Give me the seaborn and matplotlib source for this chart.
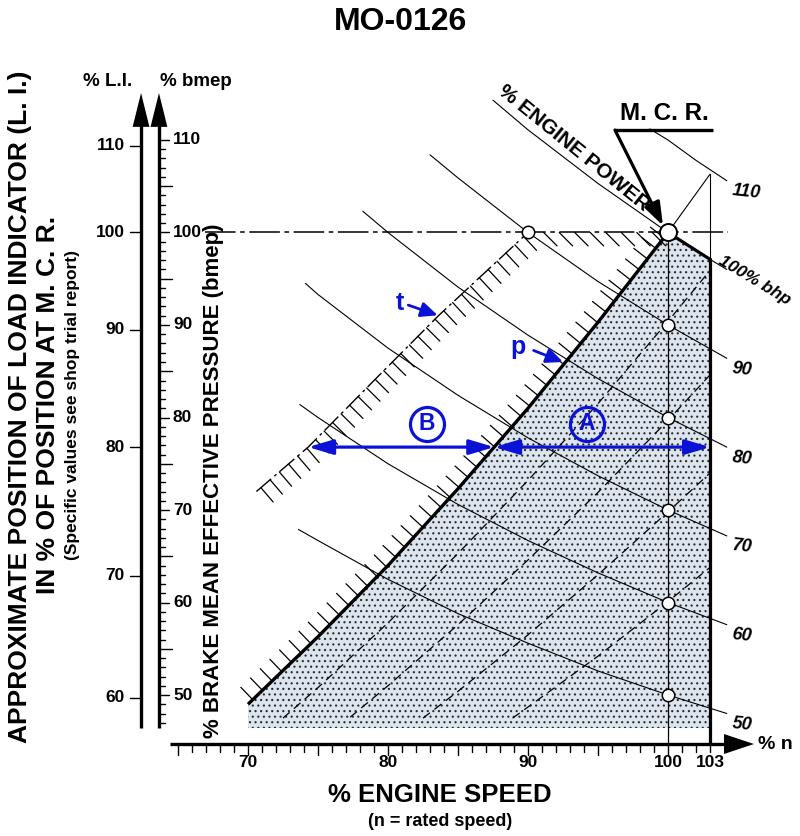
import numpy as np
import pandas as pd
import matplotlib
matplotlib.use("Agg")
import matplotlib.pyplot as plt
import matplotlib.patheffects as pe
import seaborn as sns

# ===============================
# DATA
# ===============================
speed_ticks = [70, 80, 90, 100, 103]
bmep_ticks = [50, 60, 70, 80, 90, 100, 110]
li_ticks = [60, 70, 80, 90, 100, 110]
li_at_bmep = [49.7, 62.9, 76.8, 89.5, 100.0, 109.4]   # L.I. marks on the bmep scale

# constant engine power lines (% of MCR power)
power_levels = [110, 100, 90, 80, 70, 60, 50]
power_speed = [
    [98.7, 100, 102, 104.2],
    [87.5, 90, 95, 100, 103, 104.2],
    [83.0, 85, 90, 95, 100, 104.2],
    [78.2, 80, 85, 90, 95, 100, 104.2],
    [74.1, 75, 80, 85, 90, 95, 100, 104.2],
    [73.7, 75, 80, 85, 90, 95, 100, 104.2],
    [73.6, 75, 80, 85, 90, 95, 100, 104.2],
]
power_bmep = [
    [111.2, 110.0, 107.8, 105.6],
    [114.3, 111.1, 105.3, 100.0, 97.1, 96.0],
    [108.4, 105.9, 100.0, 94.7, 90.0, 86.4],
    [102.3, 100.0, 94.1, 88.9, 84.2, 80.0, 76.8],
    [94.5, 93.3, 87.5, 82.4, 77.8, 73.7, 70.0, 67.2],
    [81.4, 80.0, 75.0, 70.6, 66.7, 63.2, 60.0, 57.6],
    [67.9, 66.7, 62.5, 58.8, 55.6, 52.6, 50.0, 48.0],
]

# propeller curves (dashed) inside the service range
prop_speed = [
    [72.5, 75, 80, 85, 90, 95, 100, 103],
    [77.3, 80, 85, 90, 95, 100, 103],
    [82.5, 85, 90, 95, 100, 103],
    [88.9, 90, 95, 100, 103],
]
prop_bmep = [
    [47.5, 50.8, 57.8, 65.3, 73.2, 81.5, 90.4, 95.9],
    [47.6, 51.0, 57.6, 64.6, 71.9, 79.7, 84.6],
    [47.5, 50.4, 56.5, 63.0, 69.8, 74.0],
    [47.5, 48.7, 54.2, 60.1, 63.8],
]

# limit curve p (heavy line) and limit t (dash-dot)
p_speed = [70, 75, 80, 85, 90, 95, 100]
p_bmep = [49.0, 56.3, 64.0, 72.3, 81.0, 90.3, 100.0]
t_speed = [70.6, 74.3, 79.0, 83.6, 90.0]
t_bmep = [72.0, 76.8, 84.0, 91.0, 100.0]

# marked points
circle_speed = [90, 100, 100, 100, 100, 100]
circle_bmep = [100, 90, 80, 70, 60, 50]
mcr_speed, mcr_bmep = 100, 100

# ===============================
# STYLE
# ===============================
sns.set_theme(style="white")
plt.rcParams["font.family"] = ["Liberation Sans", "DejaVu Sans"]
plt.rcParams["hatch.linewidth"] = 0.8
BLUE = "#0b12d8"
BOLD = dict(weight="bold", color="black")

fig = plt.figure(figsize=(8, 8.36), dpi=100)
ax = fig.add_axes([0, 0, 1, 1])

BOT = 46.43     # lower edge of the shaded range / left scales
AXY = 44.70     # speed axis line

# ===============================
# SHADED SERVICE RANGE
# ===============================
reg_s = [70] + p_speed + power_speed[1][4:5] + [power_speed[1][4]]
reg_b = [BOT] + p_bmep + power_bmep[1][4:5] + [BOT]
ax.fill(reg_s, reg_b, facecolor="#dce4ee", edgecolor="#2a2a2a", hatch="...",
        linewidth=0, zorder=1)

# propeller curves
rows = []
for i, (ss, bb) in enumerate(zip(prop_speed, prop_bmep)):
    for s, b in zip(ss, bb):
        rows.append((i, s, b))
df_prop = pd.DataFrame(rows, columns=["curve", "speed", "bmep"])
sns.lineplot(data=df_prop, x="speed", y="bmep", units="curve", estimator=None,
             sort=False, color="black", lw=0.9, linestyle=(0, (7, 4.5)),
             legend=False, ax=ax, zorder=2)

# power lines
rows = []
for lvl, ss, bb in zip(power_levels, power_speed, power_bmep):
    for s, b in zip(ss, bb):
        rows.append((lvl, s, b))
df_pow = pd.DataFrame(rows, columns=["level", "speed", "bmep"])
sns.lineplot(data=df_pow, x="speed", y="bmep", units="level", estimator=None,
             sort=False, color="black", lw=0.8, legend=False, ax=ax, zorder=2)

for lvl, ss, bb in zip(power_levels, power_speed, power_bmep):
    if lvl == 100:
        ax.text(ss[-1] + 2.0, bb[-1] - 1.2, "100% bhp", rotation=-31, ha="center",
                va="center", fontsize=12.5, style="italic", **BOLD)
    else:
        ax.text(ss[-1] + 0.3, bb[-1] - 1.2, str(lvl), rotation=-6, ha="left",
                va="center", fontsize=13, style="italic", **BOLD)

# heavy 100 % power segment and 103 % speed limit
ax.plot(power_speed[1][3:5], power_bmep[1][3:5], color="black", lw=2.3, zorder=3)
ax.plot([103, 103], [power_bmep[1][4], AXY], color="black", lw=2.3, zorder=3)
ax.plot([103, 103], [106.3, power_bmep[1][4]], color="black", lw=0.8, zorder=3)
ax.plot([mcr_speed, 103], [mcr_bmep, 106.3], color="black", lw=0.8, zorder=3)
ax.plot([100, 100], [mcr_bmep, AXY], color="black", lw=0.9, zorder=3)

# limit p with hatch ticks
ax.plot(p_speed, p_bmep, color="black", lw=0.9, zorder=3,
        path_effects=[pe.TickedStroke(spacing=9.5, angle=90, length=1.3)])
ax.plot(p_speed, p_bmep, color="black", lw=2.4, zorder=3, solid_capstyle="butt")

# limit t (dash-dot) with hatch ticks
ax.plot(t_speed, t_bmep, color="black", lw=0.9, zorder=3,
        path_effects=[pe.TickedStroke(spacing=8.5, angle=-90, length=1.6)])
ax.plot(t_speed, t_bmep, color="black", lw=1.0, dashes=(14, 3, 2, 3), zorder=3)

# 100 % bmep line (dash-dot) with ticks between t and MCR
ax.plot([66.93, 104.29], [100, 100], color="black", lw=1.1, dashes=(20, 3, 3, 3), zorder=3)
ax.plot([90.6, 99.4], [100, 100], color="black", lw=0.9, zorder=3,
        path_effects=[pe.TickedStroke(spacing=10.5, angle=-45, length=1.3)])

# circles
sns.scatterplot(x=circle_speed, y=circle_bmep, s=80, color="white", edgecolor="black",
                linewidth=1.1, zorder=6, ax=ax, legend=False)
sns.scatterplot(x=[mcr_speed], y=[mcr_bmep], s=150, color="white", edgecolor="black",
                linewidth=1.4, zorder=6, ax=ax, legend=False)

# ===============================
# M.C.R. AND ENGINE POWER ANNOTATION
# ===============================
ax.text(99.71, 112.9, "M. C. R.", ha="center", va="center", fontsize=17.5, **BOLD)
ax.plot([96.21, 103.21], [111.08, 111.08], color="black", lw=2.4, solid_capstyle="butt")
ax.annotate("", xy=(99.64, 100.75), xytext=(96.21, 111.08),
            arrowprops=dict(arrowstyle="-|>,head_length=1.4,head_width=0.5",
                            mutation_scale=10, lw=2.3, color="black",
                            shrinkA=0, shrinkB=0), zorder=7)
ax.text(93.3, 109.1, "% ENGINE POWER", rotation=-39, ha="center", va="center",
        fontsize=15, **BOLD)

# ===============================
# BLUE RANGE ARROWS AND LABELS
# ===============================
yb = li_at_bmep[2]
t_at = np.interp(yb, t_bmep, t_speed)
p_at = np.interp(yb, p_bmep, p_speed)
arw = dict(arrowstyle="<|-|>,head_length=1.5,head_width=0.45", mutation_scale=10,
           lw=2.3, color=BLUE, shrinkA=0, shrinkB=0)
ax.annotate("", xy=(t_at, yb), xytext=(p_at, yb), arrowprops=arw, zorder=7)
ax.annotate("", xy=(speed_ticks[-1], yb), xytext=(p_at, yb), arrowprops=arw, zorder=7)
for cx, lab in [(82.79, "B"), (94.21, "A")]:
    ax.plot([cx], [79.3], marker="o", ms=24.5, mfc="none", mec=BLUE, mew=2.3, zorder=7)
    ax.text(cx, 79.3, lab, ha="center", va="center", fontsize=16.5, weight="bold",
            color=BLUE, zorder=8)

small = dict(arrowstyle="-|>,head_length=1.0,head_width=0.45", mutation_scale=10,
             lw=2.0, color=BLUE, shrinkA=0, shrinkB=0)
ax.text(80.86, 92.4, "t", ha="center", va="center", fontsize=18, weight="bold", color=BLUE)
ax.annotate("", xy=(83.55, 91.05), xytext=(81.45, 92.15), arrowprops=small, zorder=7)
ax.text(89.29, 87.6, "p", ha="center", va="center", fontsize=18, weight="bold", color=BLUE)
ax.annotate("", xy=(92.5, 86.0), xytext=(90.4, 87.25), arrowprops=small, zorder=7)

# ===============================
# LEFT SCALES (L.I. and bmep)
# ===============================
LI_X, BM_X, TOP, TIP = 62.36, 63.64, 111.62, 115.08
for xx in (LI_X, BM_X):
    ax.plot([xx, xx], [BOT, TOP], color="black", lw=2.4, solid_capstyle="butt")
    ax.fill([xx - 0.6, xx + 0.6, xx], [TOP - 0.2, TOP - 0.2, TIP], color="black", lw=0)

for v in range(47, 111):
    ln = 0.72 if v % 10 == 0 else (0.93 if v % 5 == 0 else 0.43)
    ax.plot([BM_X, BM_X + ln], [v, v], color="black", lw=1.0)
for v in bmep_ticks:
    ax.text(BM_X + 1.0, v, str(v), ha="left", va="center", fontsize=12.5, **BOLD)

for v, b in zip(li_ticks, li_at_bmep):
    ax.plot([LI_X - 0.79, LI_X], [b, b], color="black", lw=1.0)
    ax.text(LI_X - 1.15, b, str(v), ha="right", va="center", fontsize=12.5, **BOLD)

ax.text(60.0, 116.3, "% L.I.", ha="center", va="center", fontsize=13.5, **BOLD)
ax.text(66.3, 116.3, "% bmep", ha="center", va="center", fontsize=13.5, **BOLD)

ax.text(53.71, 81.2, "APPROXIMATE POSITION OF LOAD INDICATOR (L. I.)", rotation=90,
        ha="center", va="center", fontsize=19, **BOLD)
ax.text(55.71, 81.4, "IN % OF POSITION AT M. C. R.", rotation=90,
        ha="center", va="center", fontsize=19, **BOLD)
ax.text(57.43, 81.3, "(Specific values see shop trial report)", rotation=90,
        ha="center", va="center", fontsize=12.5, **BOLD)
ax.text(67.5, 73.2, "% BRAKE MEAN EFFECTIVE PRESSURE (bmep)", rotation=90,
        ha="center", va="center", fontsize=16, **BOLD)

# ===============================
# SPEED AXIS
# ===============================
ax.plot([64.43, 104.2], [AXY, AXY], color="black", lw=2.4, solid_capstyle="butt")
ax.fill([104.0, 104.0, 106.14], [AXY - 1.08, AXY + 1.08, AXY], color="black", lw=0)
for v in range(65, 104):
    ln = 1.2 if v % 5 == 0 else 0.86
    ax.plot([v, v], [AXY, AXY - ln], color="black", lw=1.0)
for v in speed_ticks:
    ax.text(v, 42.75, str(v), ha="center", va="center", fontsize=12.5, **BOLD)
ax.text(107.7, 44.6, "% n", ha="center", va="center", fontsize=14, **BOLD)
ax.text(83.71, 39.2, "% ENGINE SPEED", ha="center", va="center", fontsize=18.5, **BOLD)
ax.text(83.71, 36.3, "(n = rated speed)", ha="center", va="center", fontsize=13, **BOLD)

ax.text(80.86, 122.76, "MO-0126", ha="center", va="center", fontsize=23, **BOLD)

ax.set_xlim(52.2857, 109.4286)
ax.set_ylim(34.7568, 125.1351)
ax.axis("off")

fig.savefig("out.png", dpi=100)
